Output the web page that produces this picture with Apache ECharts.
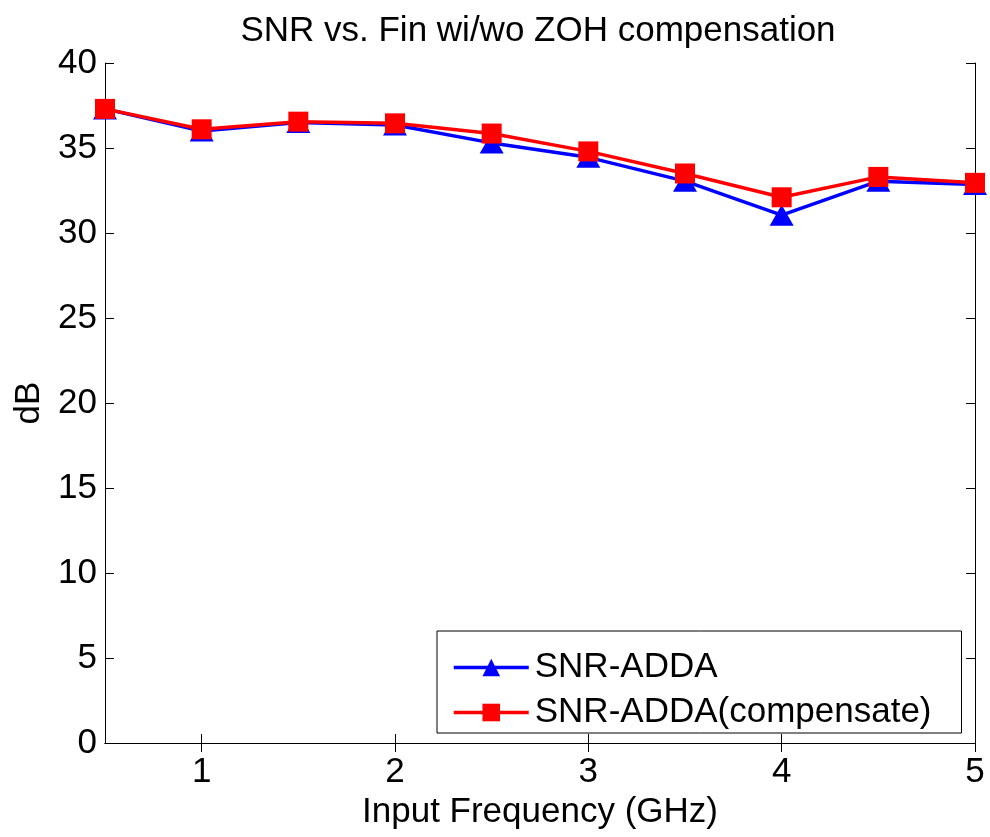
<!DOCTYPE html>
<html><head><meta charset="utf-8">
<script src="https://cdn.jsdelivr.net/npm/echarts@6/dist/echarts.min.js"></script>
<style>html,body{margin:0;padding:0;background:#fff}#c{width:990px;height:837px}</style>
</head><body><div id="c"></div>
<script>
const freqGHz = [0.5, 1, 1.5, 2, 2.5, 3, 3.5, 4, 4.5, 5];
const snrADDA = [37.3, 36.0, 36.5, 36.35, 35.3, 34.45, 33.05, 31.05, 33.05, 32.85];
const snrComp = [37.3, 36.1, 36.55, 36.45, 35.85, 34.8, 33.5, 32.1, 33.3, 32.95];
const xTicks = [1, 2, 3, 4, 5];
const yTicks = [0, 5, 10, 15, 20, 25, 30, 35, 40];

const font = 'Liberation Sans, Arial, Helvetica, sans-serif';
const FS = 35;
const axisCommon = {
  axisLine: {show: true, lineStyle: {color: '#000', width: 1}},
  axisTick: {show: true, inside: true, length: 9, lineStyle: {color: '#000'}},
  splitLine: {show: false}
};
const chart = echarts.init(document.getElementById('c'), null, {renderer: 'canvas'});
chart.setOption({
  animation: false,
  backgroundColor: '#fff',
  title: {text: 'SNR vs. Fin wi/wo ZOH compensation', left: 533, textAlign: 'center', top: 7,
    textStyle: {fontFamily: font, fontSize: FS, fontWeight: 'normal', color: '#000', lineHeight: 38}},
  grid: {left: 105, right: 15, top: 63, bottom: 94, containLabel: false, outerBoundsMode: 'none'},
  legend: {
    left: 437, top: 631, orient: 'vertical', backgroundColor: '#fff',
    borderColor: '#000', borderWidth: 1, padding: [19, 30, 3, 15],
    itemWidth: 75, itemHeight: 22, itemGap: 10,
    lineStyle: {width: 3.5},
    textStyle: {fontFamily: font, fontSize: FS, color: '#000', lineHeight: 35, padding: [0, 0, 0, 1]},
    data: ['SNR-ADDA', 'SNR-ADDA(compensate)']
  },
  xAxis: [
    Object.assign({}, axisCommon, {type: 'value', position: 'bottom', min: 0.5, max: 5,
      axisTick: Object.assign({}, axisCommon.axisTick, {customValues: xTicks}),
      axisLabel: {customValues: xTicks, fontFamily: font, fontSize: FS, color: '#000', margin: 12},
      name: 'Input Frequency (GHz)', nameLocation: 'middle', nameGap: 51,
      nameTextStyle: {fontFamily: font, fontSize: FS, color: '#000'}}),
    Object.assign({}, axisCommon, {type: 'value', position: 'top', min: 0.5, max: 5,
      axisTick: Object.assign({}, axisCommon.axisTick, {customValues: xTicks}),
      axisLabel: {show: false}})
  ],
  yAxis: [
    Object.assign({}, axisCommon, {type: 'value', position: 'left', min: 0, max: 40, interval: 5,
      axisLabel: {fontFamily: font, fontSize: FS, color: '#000', margin: 8},
      name: 'dB', nameLocation: 'middle', nameGap: 57, nameRotate: 90,
      nameTextStyle: {fontFamily: font, fontSize: FS, color: '#000'}}),
    Object.assign({}, axisCommon, {type: 'value', position: 'right', min: 0, max: 40, interval: 5,
      axisLabel: {show: false}})
  ],
  series: [
    {name: 'SNR-ADDA', type: 'line', data: freqGHz.map((x, i) => [x, snrADDA[i]]),
      symbol: 'triangle', symbolSize: [24, 21], color: '#0000ff',
      lineStyle: {color: '#0000ff', width: 3.5}, itemStyle: {color: '#0000ff'}},
    {name: 'SNR-ADDA(compensate)', type: 'line', data: freqGHz.map((x, i) => [x, snrComp[i]]),
      symbol: 'rect', symbolSize: 20, color: '#ff0000',
      lineStyle: {color: '#ff0000', width: 3.5}, itemStyle: {color: '#ff0000'}}
  ]
});
</script></body></html>
